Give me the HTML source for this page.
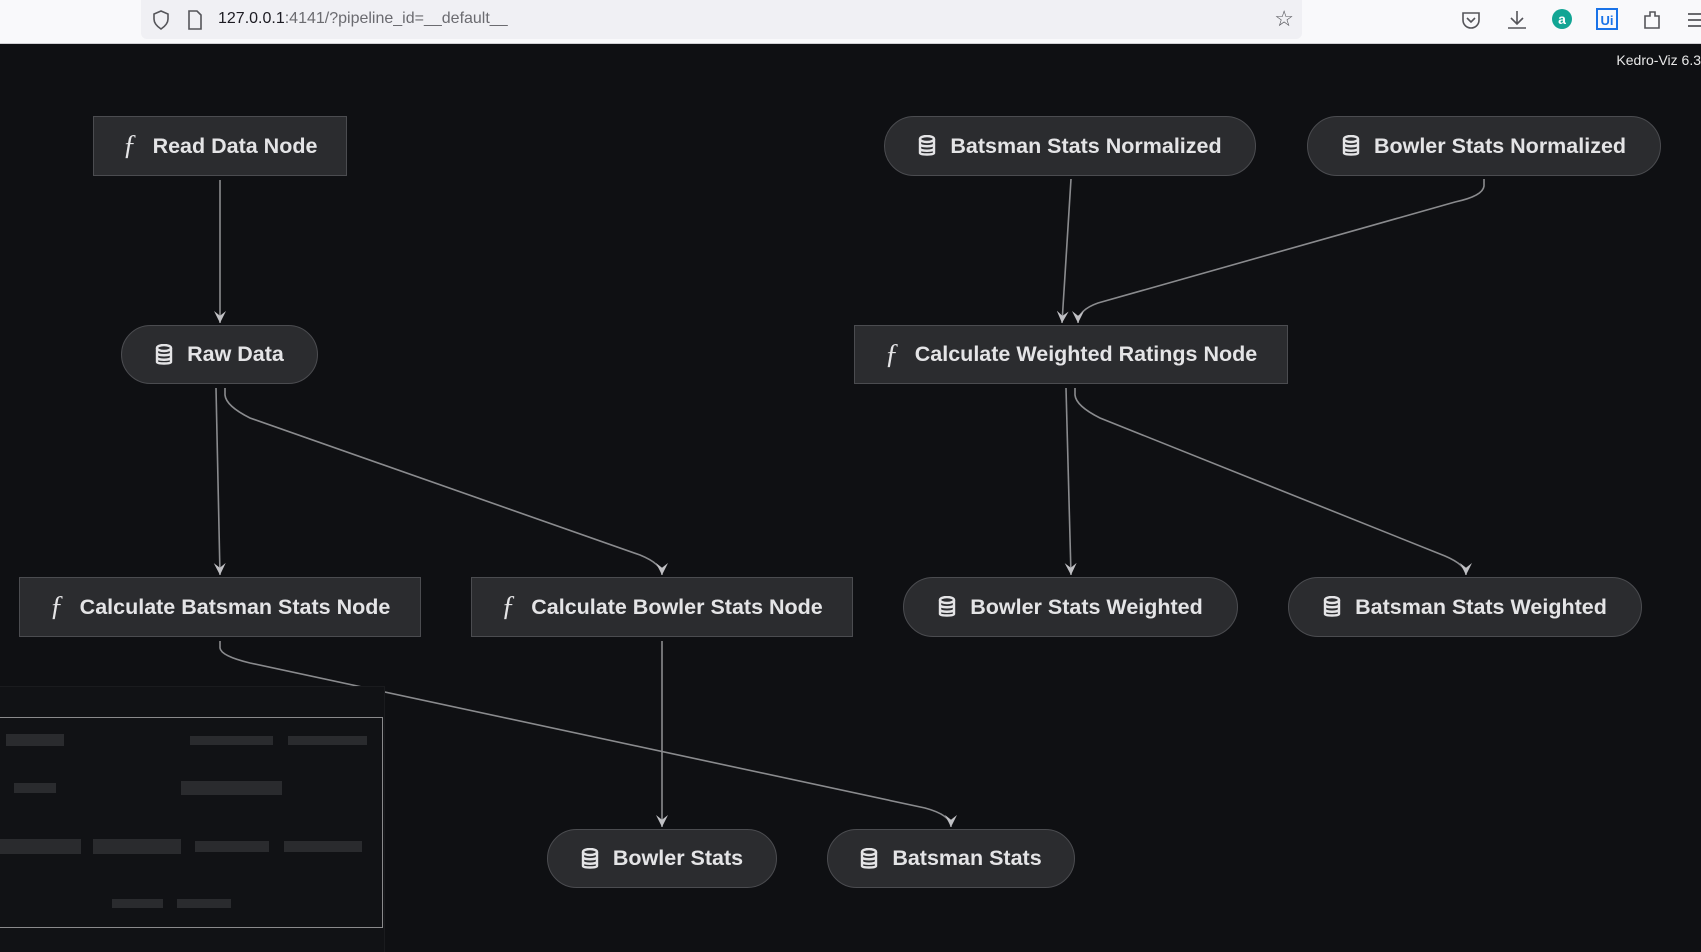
<!DOCTYPE html>
<html><head><meta charset="utf-8"><style>
*{margin:0;padding:0;box-sizing:border-box}
body{width:1701px;height:952px;background:#0f1013;overflow:hidden;position:relative;font-family:"Liberation Sans",sans-serif}
.top{position:absolute;left:0;top:0;width:1701px;height:44px;background:#f9f9fb;border-bottom:1px solid #d0d0d4}
.addr{position:absolute;left:141px;top:0;width:1161px;height:39px;background:#f0f0f4;border-radius:0 0 6px 6px}
.url{position:absolute;left:218px;top:10px;font-size:16px;color:#1c1b22}
.url span{color:#6b6b70}
.n{position:absolute;background:#2b2c2f;border:1.5px solid #4b4c50;color:#e4e4e6;font-weight:bold;font-size:21.5px;display:flex;align-items:center;justify-content:center;white-space:nowrap}
.r{border-radius:30px}
.ic{margin-right:14px;display:inline-block}
.f{font-family:"Liberation Serif",serif;font-style:italic;font-weight:normal;font-size:28px;margin-right:16px}
.mm{position:absolute;left:0;top:686px;width:385px;height:266px;background:#111215;border-right:1px solid #1a1b1e;border-top:1px solid #1a1b1e}
.fr{position:absolute;left:0;top:717px;width:383px;height:211px;border:1.5px solid #8a8a8c;border-left:none}
.b{position:absolute;background:#2a2b2e}
.ver{position:absolute;right:0;top:52px;color:#e8e8e8;font-size:14px}
</style></head><body>
<div class="top"><div class="addr">
<svg style="position:absolute;left:10px;top:9px" width="20" height="22" viewBox="0 0 20 22"><path d="M10 2 L17 5 V10 C17 15 13 18 10 20 C7 18 3 15 3 10 V5 Z" fill="none" stroke="#55555a" stroke-width="1.6"/></svg>
<svg style="position:absolute;left:46px;top:10px" width="16" height="20" viewBox="0 0 16 20"><path d="M2 1 H10 L14 5 V19 H2 Z" fill="none" stroke="#55555a" stroke-width="1.6"/></svg>
<div class="url" style="left:77px">127.0.0.1<span>:4141/?pipeline_id=__default__</span></div>
<div style="position:absolute;right:8px;top:6px;font-size:22px;color:#55555a">☆</div>
</div>
<svg style="position:absolute;left:1460px;top:8px" width="241" height="26" viewBox="0 0 241 26">
<path d="M3 5 H19 V12 C19 17 15 20 11 20 C7 20 3 17 3 12 Z" fill="none" stroke="#55555a" stroke-width="1.6"/><path d="M7 10 L11 14 L15 10" fill="none" stroke="#55555a" stroke-width="1.6"/>
<path d="M57 3 V16 M51 10 L57 16 L63 10 M48 20 H66" fill="none" stroke="#55555a" stroke-width="1.6"/>
<circle cx="102" cy="11" r="10" fill="#12a594"/><text x="102" y="16" font-size="14" font-weight="bold" fill="#fff" text-anchor="middle" font-family="Liberation Sans">a</text>
<rect x="137" y="1" width="20" height="20" fill="none" stroke="#1a73e8" stroke-width="2"/><text x="147" y="17" font-size="13" font-weight="bold" fill="#1a73e8" text-anchor="middle" font-family="Liberation Sans">Ui</text>
<path d="M185 8 H190 V4 H195 V8 H199 V20 H185 Z" fill="none" stroke="#55555a" stroke-width="1.6"/>
<path d="M228 6 H241 M228 12 H241 M228 18 H241" stroke="#55555a" stroke-width="1.8"/>
</svg>
</div>
<div class="ver">Kedro-Viz 6.3</div>

<svg style="position:absolute;left:0;top:0" width="1701" height="952">
<defs><marker id="a" viewBox="0 0 10 10" refX="10" refY="5" markerWidth="12" markerHeight="12" orient="auto" markerUnits="userSpaceOnUse"><path d="M0 0 L10 5 L0 10 L4 5 Z" fill="#c0c0c4"/></marker></defs>
<g fill="none" stroke="#8a8b8e" stroke-width="1.6">
<path d="M220 180 L220 323" marker-end="url(#a)"/>
<path d="M216 388 L220 575" marker-end="url(#a)"/>
<path d="M225 388 V395 Q226 406 250 418 L640 555 Q662 564 662 575" marker-end="url(#a)"/>
<path d="M1071 179 L1062 323" marker-end="url(#a)"/>
<path d="M1484 179 V186 Q1483 196 1455 202 L1098 303 Q1078 310 1078 323" marker-end="url(#a)"/>
<path d="M1066 388 L1071 575" marker-end="url(#a)"/>
<path d="M1075 388 V395 Q1076 406 1100 418 L1445 556 Q1466 565 1466 575" marker-end="url(#a)"/>
<path d="M220 641 V648 Q221 656 250 663 L925 808 Q951 815 951 827" marker-end="url(#a)"/>
<path d="M662 641 L662 827" marker-end="url(#a)"/>
</g></svg>

<div class="n" style="left:93px;top:116px;width:254px;height:60px"><span class="f">ƒ</span>Read Data Node</div>
<div class="n r" style="left:121px;top:325px;width:197px;height:59px"><svg class="ic" width="18" height="22" viewBox="0 0 18 22"><g fill="none" stroke="#e4e4e6" stroke-width="2.4"><ellipse cx="9" cy="4" rx="7" ry="3"/><path d="M2 4 V18 C2 20 16 20 16 18 V4 M2 9 C2 12 16 12 16 9 M2 13.5 C2 16.5 16 16.5 16 13.5"/></g></svg>Raw Data</div>
<div class="n r" style="left:884px;top:116px;width:372px;height:60px"><svg class="ic" width="18" height="22" viewBox="0 0 18 22"><g fill="none" stroke="#e4e4e6" stroke-width="2.4"><ellipse cx="9" cy="4" rx="7" ry="3"/><path d="M2 4 V18 C2 20 16 20 16 18 V4 M2 9 C2 12 16 12 16 9 M2 13.5 C2 16.5 16 16.5 16 13.5"/></g></svg>Batsman Stats Normalized</div>
<div class="n r" style="left:1307px;top:116px;width:354px;height:60px"><svg class="ic" width="18" height="22" viewBox="0 0 18 22"><g fill="none" stroke="#e4e4e6" stroke-width="2.4"><ellipse cx="9" cy="4" rx="7" ry="3"/><path d="M2 4 V18 C2 20 16 20 16 18 V4 M2 9 C2 12 16 12 16 9 M2 13.5 C2 16.5 16 16.5 16 13.5"/></g></svg>Bowler Stats Normalized</div>
<div class="n" style="left:854px;top:325px;width:434px;height:59px"><span class="f">ƒ</span>Calculate Weighted Ratings Node</div>
<div class="n" style="left:19px;top:577px;width:402px;height:60px"><span class="f">ƒ</span>Calculate Batsman Stats Node</div>
<div class="n" style="left:471px;top:577px;width:382px;height:60px"><span class="f">ƒ</span>Calculate Bowler Stats Node</div>
<div class="n r" style="left:903px;top:577px;width:335px;height:60px"><svg class="ic" width="18" height="22" viewBox="0 0 18 22"><g fill="none" stroke="#e4e4e6" stroke-width="2.4"><ellipse cx="9" cy="4" rx="7" ry="3"/><path d="M2 4 V18 C2 20 16 20 16 18 V4 M2 9 C2 12 16 12 16 9 M2 13.5 C2 16.5 16 16.5 16 13.5"/></g></svg>Bowler Stats Weighted</div>
<div class="n r" style="left:1288px;top:577px;width:354px;height:60px"><svg class="ic" width="18" height="22" viewBox="0 0 18 22"><g fill="none" stroke="#e4e4e6" stroke-width="2.4"><ellipse cx="9" cy="4" rx="7" ry="3"/><path d="M2 4 V18 C2 20 16 20 16 18 V4 M2 9 C2 12 16 12 16 9 M2 13.5 C2 16.5 16 16.5 16 13.5"/></g></svg>Batsman Stats Weighted</div>
<div class="n r" style="left:547px;top:829px;width:230px;height:59px"><svg class="ic" width="18" height="22" viewBox="0 0 18 22"><g fill="none" stroke="#e4e4e6" stroke-width="2.4"><ellipse cx="9" cy="4" rx="7" ry="3"/><path d="M2 4 V18 C2 20 16 20 16 18 V4 M2 9 C2 12 16 12 16 9 M2 13.5 C2 16.5 16 16.5 16 13.5"/></g></svg>Bowler Stats</div>
<div class="n r" style="left:827px;top:829px;width:248px;height:59px"><svg class="ic" width="18" height="22" viewBox="0 0 18 22"><g fill="none" stroke="#e4e4e6" stroke-width="2.4"><ellipse cx="9" cy="4" rx="7" ry="3"/><path d="M2 4 V18 C2 20 16 20 16 18 V4 M2 9 C2 12 16 12 16 9 M2 13.5 C2 16.5 16 16.5 16 13.5"/></g></svg>Batsman Stats</div>

<div class="mm"></div>
<div class="fr"></div>
<div class="b" style="left:6px;top:734px;width:58px;height:12px"></div>
<div class="b" style="left:190px;top:736px;width:83px;height:9px"></div>
<div class="b" style="left:288px;top:736px;width:79px;height:9px"></div>
<div class="b" style="left:14px;top:783px;width:42px;height:10px"></div>
<div class="b" style="left:181px;top:781px;width:101px;height:14px"></div>
<div class="b" style="left:0;top:839px;width:81px;height:15px"></div>
<div class="b" style="left:93px;top:839px;width:88px;height:15px"></div>
<div class="b" style="left:195px;top:841px;width:74px;height:11px"></div>
<div class="b" style="left:284px;top:841px;width:78px;height:11px"></div>
<div class="b" style="left:112px;top:899px;width:51px;height:9px"></div>
<div class="b" style="left:177px;top:899px;width:54px;height:9px"></div>
</body></html>
